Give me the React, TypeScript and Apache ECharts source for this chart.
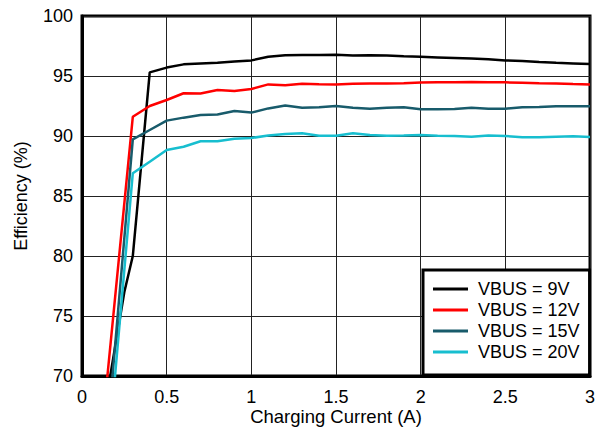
import React, { useEffect, useRef } from "react";
import * as echarts from "echarts";

const seriesNames = ["VBUS = 9V", "VBUS = 12V", "VBUS = 15V", "VBUS = 20V"];
const seriesColors = ["#000000", "#FF0000", "#185B6B", "#17BECF"];

const x9 = [0.1, 0.25, 0.3, 0.4, 0.5, 0.6, 0.7, 0.8, 0.9, 1.0, 1.1, 1.2, 1.3, 1.4, 1.5, 1.6, 1.7, 1.8, 1.9, 2.0, 2.1, 2.2, 2.3, 2.4, 2.5, 2.6, 2.7, 2.8, 2.9, 3.0];
const y9 = [64.4, 77, 80, 95.3, 95.7, 95.97, 96.05, 96.1, 96.2, 96.3, 96.6, 96.72, 96.75, 96.75, 96.78, 96.7, 96.72, 96.7, 96.64, 96.6, 96.55, 96.5, 96.45, 96.39, 96.3, 96.25, 96.17, 96.1, 96.05, 96.0];

const x12 = [0.1, 0.3, 0.4, 0.5, 0.6, 0.7, 0.8, 0.9, 1.0, 1.1, 1.2, 1.3, 1.4, 1.5, 1.6, 1.7, 1.8, 1.9, 2.0, 2.1, 2.2, 2.3, 2.4, 2.5, 2.6, 2.7, 2.8, 2.9, 3.0];
const y12 = [62.8, 91.6, 92.5, 93.0, 93.56, 93.55, 93.83, 93.75, 93.92, 94.3, 94.22, 94.35, 94.32, 94.3, 94.35, 94.37, 94.38, 94.4, 94.45, 94.47, 94.48, 94.5, 94.47, 94.47, 94.44, 94.4, 94.37, 94.33, 94.3];

const x15 = [0.1, 0.3, 0.4, 0.5, 0.6, 0.7, 0.8, 0.9, 1.0, 1.1, 1.2, 1.3, 1.4, 1.5, 1.6, 1.7, 1.8, 1.9, 2.0, 2.1, 2.2, 2.3, 2.4, 2.5, 2.6, 2.7, 2.8, 2.9, 3.0];
const y15 = [56.8, 89.72, 90.5, 91.28, 91.53, 91.75, 91.8, 92.08, 91.95, 92.3, 92.55, 92.35, 92.4, 92.5, 92.36, 92.28, 92.36, 92.4, 92.22, 92.22, 92.25, 92.36, 92.28, 92.28, 92.4, 92.42, 92.47, 92.47, 92.47];

const x20 = [0.1, 0.3, 0.4, 0.5, 0.6, 0.7, 0.8, 0.9, 1.0, 1.1, 1.2, 1.3, 1.4, 1.5, 1.6, 1.7, 1.8, 1.9, 2.0, 2.1, 2.2, 2.3, 2.4, 2.5, 2.6, 2.7, 2.8, 2.9, 3.0];
const y20 = [54.7, 86.9, 87.86, 88.83, 89.1, 89.56, 89.56, 89.78, 89.83, 90.05, 90.17, 90.22, 90.03, 90.03, 90.22, 90.08, 90.03, 90.05, 90.08, 90.03, 90.0, 89.94, 90.05, 90.0, 89.89, 89.89, 89.94, 89.97, 89.92];

const xTitle = "Charging Current (A)";
const yTitle = "Efficiency (%)";

const FONT = "'Liberation Sans', Arial, sans-serif";

export default function App() {
  const ref = useRef<HTMLDivElement>(null);
  useEffect(() => {
    if (!ref.current) return;
    const chart = echarts.init(ref.current, undefined, { renderer: "svg" });
    const xs = [x9, x12, x15, x20];
    const ys = [y9, y12, y15, y20];
    chart.setOption({
      animation: false,
      textStyle: { fontFamily: FONT },
      grid: {
        left: 82,
        top: 16,
        width: 508,
        height: 360,
        outerBoundsMode: "none",
        containLabel: false,
        show: true,
        borderColor: "#000",
        borderWidth: 3,
        backgroundColor: "#fff",
      },
      xAxis: {
        type: "value",
        min: 0,
        max: 3,
        interval: 0.5,
        name: xTitle,
        nameLocation: "middle",
        nameGap: 31,
        nameMoveOverlap: false,
        nameTextStyle: { fontSize: 18.5, lineHeight: 18, color: "#000", fontFamily: FONT },
        axisLine: { show: true, lineStyle: { color: "#000", width: 3 } },
        axisTick: { show: false },
        axisLabel: { fontSize: 18, color: "#000", margin: 12, fontFamily: FONT },
        splitLine: { show: true, lineStyle: { color: "#222", width: 1 } },
      },
      yAxis: {
        type: "value",
        min: 70,
        max: 100,
        interval: 5,
        name: yTitle,
        nameLocation: "middle",
        nameGap: 52,
        nameTextStyle: { fontSize: 18, color: "#000", fontFamily: FONT },
        axisLine: { show: true, lineStyle: { color: "#000", width: 3 } },
        axisTick: { show: false },
        axisLabel: { fontSize: 18, color: "#000", margin: 9, fontFamily: FONT },
        splitLine: { show: true, lineStyle: { color: "#222", width: 1 } },
      },
      legend: {
        orient: "vertical",
        left: 423,
        top: 270,
        width: 167,
        padding: [10, 10, 14, 10],
        itemWidth: 35,
        itemHeight: 18,
        itemGap: 3,
        backgroundColor: "#fff",
        borderColor: "#000",
        borderWidth: 3,
        textStyle: { fontSize: 18, lineHeight: 18, color: "#000", fontFamily: FONT, padding: [0, 0, 0, 5] },
        data: seriesNames.map((n) => ({ name: n, icon: "path://M0,0 L35,0 L35,3 L0,3 Z" })),
        z: 10,
      },
      series: seriesNames.map((name, i) => ({
        name,
        type: "line",
        symbol: "none",
        clip: true,
        color: seriesColors[i],
        lineStyle: { color: seriesColors[i], width: 2.5 },
        data: xs[i].map((x, j) => [x, ys[i][j]]),
      })),
    });
    return () => chart.dispose();
  }, []);
  return (
    <div
      ref={ref}
      style={{ position: "fixed", left: 0, top: 0, width: 598, height: 428, background: "#fff" }}
    />
  );
}
